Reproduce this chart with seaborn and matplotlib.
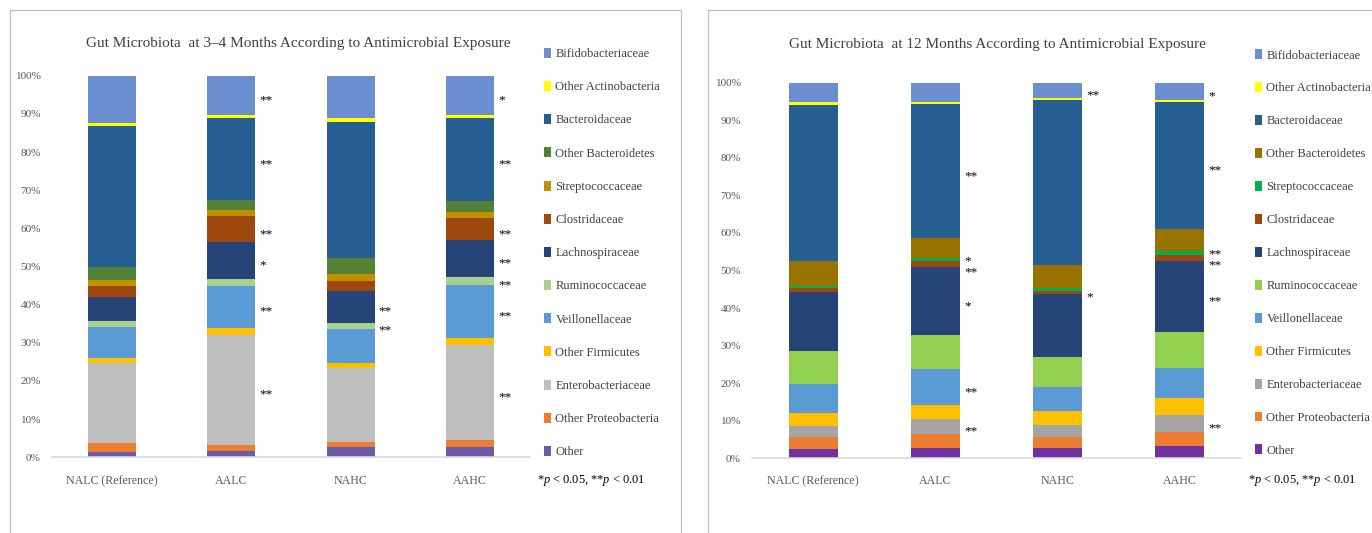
import pandas as pd
import matplotlib
matplotlib.use("Agg")
import matplotlib.pyplot as plt
from matplotlib.patches import Patch, Rectangle
import seaborn as sns

groups = ["NALC (Reference)", "AALC", "NAHC", "AAHC"]

# stacking order, bottom segment of each bar first
taxa = ["Other", "Other Proteobacteria", "Enterobacteriaceae", "Other Firmicutes",
        "Veillonellaceae", "Ruminococcaceae", "Lachnospiraceae", "Clostridaceae",
        "Streptococcaceae", "Other Bacteroidetes", "Bacteroidaceae",
        "Other Actinobacteria", "Bifidobacteriaceae"]

# relative abundance (%) at 3–4 months, in taxa order
m4_nalc = [1.5, 2.2, 20.9, 1.3, 8.3, 1.6, 6.1, 3.0, 1.6, 3.3, 37.0, 0.9, 12.3]
m4_aalc = [1.7, 1.5, 28.9, 1.9, 10.9, 1.8, 9.6, 7.0, 1.5, 2.6, 21.5, 0.7, 10.4]
m4_nahc = [2.6, 1.3, 19.4, 1.5, 8.7, 1.8, 8.2, 2.8, 1.7, 4.1, 35.8, 0.9, 11.2]
m4_aahc = [2.6, 1.9, 24.8, 1.9, 14.0, 2.0, 9.7, 5.7, 1.8, 2.8, 21.7, 0.7, 10.4]

# relative abundance (%) at 12 months, in taxa order
m12_nalc = [2.5, 3.1, 3.0, 3.4, 7.8, 8.8, 15.6, 1.1, 0.7, 6.5, 41.6, 0.7, 5.2]
m12_aalc = [2.8, 3.7, 4.0, 3.7, 9.5, 9.0, 18.1, 1.6, 0.8, 5.4, 35.6, 0.6, 5.2]
m12_nahc = [2.8, 3.0, 3.0, 3.8, 6.3, 8.0, 16.8, 0.9, 0.8, 6.1, 43.8, 0.5, 4.2]
m12_aahc = [3.4, 3.7, 4.4, 4.5, 8.1, 9.6, 18.9, 1.5, 1.1, 5.8, 33.9, 0.6, 4.5]

colors_m4 = ["#6A5CA8", "#ED7D31", "#BFBFBF", "#FFC000", "#5B9BD5", "#A9D18E",
             "#264478", "#9E480E", "#BF9000", "#538135", "#255E91", "#FFFF00",
             "#6A8ECF"]
colors_m12 = ["#7030A0", "#ED7D31", "#A5A5A5", "#FFC000", "#5B9BD5", "#92D050",
              "#264478", "#9E480E", "#00B050", "#997300", "#255E91", "#FFFF00",
              "#6A8ECF"]

# significance versus the reference group
marks_m4 = [("AALC", "Bifidobacteriaceae", "**"), ("AALC", "Bacteroidaceae", "**"),
            ("AALC", "Clostridaceae", "**"), ("AALC", "Lachnospiraceae", "*"),
            ("AALC", "Veillonellaceae", "**"), ("AALC", "Enterobacteriaceae", "**"),
            ("NAHC", "Lachnospiraceae", "**"), ("NAHC", "Ruminococcaceae", "**"),
            ("AAHC", "Bifidobacteriaceae", "*"), ("AAHC", "Bacteroidaceae", "**"),
            ("AAHC", "Clostridaceae", "**"), ("AAHC", "Lachnospiraceae", "**"),
            ("AAHC", "Ruminococcaceae", "**"), ("AAHC", "Veillonellaceae", "**"),
            ("AAHC", "Enterobacteriaceae", "**")]
marks_m12 = [("AALC", "Bacteroidaceae", "**"), ("AALC", "Streptococcaceae", "*"),
             ("AALC", "Clostridaceae", "**"), ("AALC", "Lachnospiraceae", "*"),
             ("AALC", "Veillonellaceae", "**"), ("AALC", "Enterobacteriaceae", "**"),
             ("NAHC", "Bifidobacteriaceae", "**"), ("NAHC", "Clostridaceae", "*"),
             ("AAHC", "Bifidobacteriaceae", "*"), ("AAHC", "Bacteroidaceae", "**"),
             ("AAHC", "Streptococcaceae", "**"), ("AAHC", "Clostridaceae", "**"),
             ("AAHC", "Lachnospiraceae", "**"), ("AAHC", "Enterobacteriaceae", "**")]

sns.set_theme(style="white")
plt.rcParams["font.family"] = ["Liberation Serif", "DejaVu Serif"]
plt.rcParams["mathtext.fontset"] = "custom"
plt.rcParams["mathtext.rm"] = "Liberation Serif"
plt.rcParams["mathtext.it"] = "Liberation Serif:italic"

W, H = 1372, 533
fig = plt.figure(figsize=(W / 100, H / 100), dpi=100)


def fx(px):
    return px / W


def fy(py):
    return 1 - py / H


def long_table(columns):
    rows = []
    for g, vals in zip(groups, columns):
        cum = 0.0
        for t, v in zip(taxa, vals):
            cum += v
            rows.append({"group": g, "taxon": t, "value": v, "top": cum, "mid": cum - v / 2})
    return pd.DataFrame(rows)


def draw_panel(ax, columns, colors, marks, xpad):
    df = long_table(columns)
    # overlay cumulative bars from the top segment down to form the stacks
    for t, c in reversed(list(zip(taxa, colors))):
        sub = df[df["taxon"] == t]
        sns.barplot(data=sub, x="group", y="top", order=groups, color=c,
                    saturation=1, width=0.4, errorbar=None, linewidth=0, ax=ax)

    # significance marks beside each segment; thin neighbouring segments get spread apart
    placed = []
    for g, t, m in marks:
        row = df[(df["group"] == g) & (df["taxon"] == t)].iloc[0]
        placed.append([g, row["mid"], m, 0.0])
    for a in placed:
        for b in placed:
            if a is not b and a[0] == b[0] and abs(a[1] - b[1]) < 2.5:
                a[3] += 2.2 if a[1] > b[1] else -2.2
    for g, mid, m, dy in placed:
        ax.annotate(m, xy=(groups.index(g) + 0.2, mid), xytext=(3, -5.6 + dy),
                    textcoords="offset points", ha="left", va="baseline",
                    fontsize=9.5, color="black", annotation_clip=False)

    ax.set_xlim(-0.5, len(groups) - 0.5)
    ax.set_ylim(0, 100)
    ax.set_yticks(range(0, 101, 10))
    ax.set_yticklabels([f"{v}%" for v in range(0, 101, 10)])
    ax.set_xlabel("")
    ax.set_ylabel("")
    for s in ["top", "right", "left"]:
        ax.spines[s].set_visible(False)
    ax.spines["bottom"].set_color("#D9D9D9")
    ax.spines["bottom"].set_linewidth(1.2)
    ax.tick_params(axis="y", length=0, pad=8, labelsize=8.1, labelcolor="#595959")
    ax.tick_params(axis="x", length=0, pad=xpad, labelsize=8.6, labelcolor="#595959")
    ax.set_facecolor("none")


def add_legend(ax, colors, x_px, y_px, spacing):
    handles = [Patch(facecolor=c, edgecolor="none", label=t)
               for t, c in reversed(list(zip(taxa, colors)))]
    leg = ax.legend(handles=handles, loc="upper left",
                    bbox_to_anchor=(fx(x_px), fy(y_px)), bbox_transform=fig.transFigure,
                    frameon=False, fontsize=9, borderpad=0, borderaxespad=0,
                    handlelength=0.58, handleheight=0.85, handletextpad=0.33,
                    labelspacing=spacing)
    for txt in leg.get_texts():
        txt.set_color("#404040")


# panel frames
fig.add_artist(Rectangle((fx(9.5), -0.1), fx(681 - 9.5), fy(10) + 0.1,
                         transform=fig.transFigure, fill=False, ec="#BFBFBF", lw=0.9))
fig.add_artist(Rectangle((fx(708), -0.1), fx(1380 - 708), fy(10) + 0.1,
                         transform=fig.transFigure, fill=False, ec="#BFBFBF", lw=0.9))

ax1 = fig.add_axes([fx(52), fy(457.3), fx(530 - 52), (457.3 - 75.7) / H])
draw_panel(ax1, [m4_nalc, m4_aalc, m4_nahc, m4_aahc], colors_m4, marks_m4, 12.8)
add_legend(ax1, colors_m4, 544, 47.8, 1.67)

ax2 = fig.add_axes([fx(752), fy(458.3), fx(1241 - 752), (458.3 - 82.7) / H])
draw_panel(ax2, [m12_nalc, m12_aalc, m12_nahc, m12_aahc], colors_m12, marks_m12, 12.2)
add_legend(ax2, colors_m12, 1255, 49.2, 1.65)

fig.text(fx(298.5), fy(43.5), "Gut Microbiota  at 3–4 Months According to Antimicrobial Exposure",
         ha="center", va="center", fontsize=11, color="#404040")
fig.text(fx(997.5), fy(44.5), "Gut Microbiota  at 12 Months According to Antimicrobial Exposure",
         ha="center", va="center", fontsize=11, color="#404040")

note = r"*$p$ < 0.05, **$p$ < 0.01"
fig.text(fx(537), fy(481), note, ha="left", va="center", fontsize=8.9, color="black")
fig.text(fx(1248), fy(481), note, ha="left", va="center", fontsize=8.9, color="black")

fig.savefig("out.png", dpi=100, facecolor="white")
